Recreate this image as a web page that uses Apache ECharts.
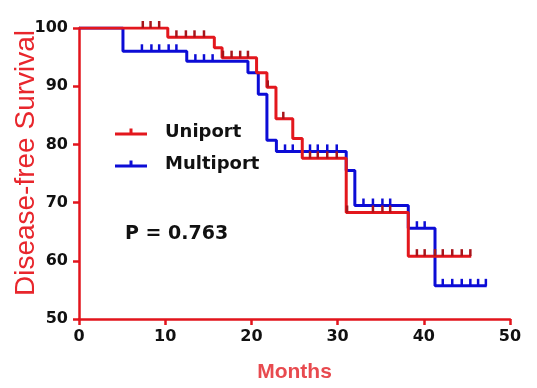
<!DOCTYPE html>
<html>
<head>
<meta charset="utf-8">
<script src="https://cdn.jsdelivr.net/npm/echarts@6/dist/echarts.min.js"></script>
<style>
  html, body { margin: 0; padding: 0; background: #fff; }
  #chart { width: 537px; height: 388px; }
</style>
</head>
<body>
<div id="chart"></div>
<script>
// Kaplan-Meier steps (months, % disease-free)
const uniTimes = [0, 10.3, 15.7, 16.6, 20.6, 21.8, 22.85, 24.8, 25.9, 31.0, 38.2, 45.5];
const uniSurv = [100, 98.4, 96.6, 94.9, 92.3, 89.8, 84.4, 81.0, 77.6, 68.3, 60.8, 60.8];
const uniCensor = [7.4, 8.3, 9.3, 11.3, 12.4, 13.4, 14.5, 16.7, 17.7, 18.7, 19.6, 21.9, 23.7,
  26.8, 27.7, 28.8, 29.9, 31.1, 34.1, 35.2, 36.1, 39.2, 40.1, 41.3, 42.2, 43.3, 44.4, 45.4];

const multiTimes = [0, 5.1, 12.5, 19.6, 20.8, 21.8, 22.9, 31.0, 32.0, 38.2, 41.3, 47.3];
const multiSurv = [100, 96.0, 94.3, 92.3, 88.6, 80.7, 78.8, 75.5, 69.5, 65.6, 55.7, 55.7];
const multiCensor = [7.3, 8.4, 9.3, 10.4, 11.3, 13.5, 14.5, 15.5, 23.9, 24.8, 26.8, 27.7, 28.8, 29.9,
  33.0, 34.1, 35.2, 36.1, 39.2, 40.1, 42.2, 43.3, 44.4, 45.4, 46.3, 47.2];

const RED = '#e3171d';
const BLUE = '#0c0cd6';
const AXIS_RED = '#e2141c';

function pairs(xs, ys) {
  return xs.map((x, i) => [x, ys[i]]);
}

// censor mark sits on the step level at that time
function levelAt(xs, ys, t) {
  let v = ys[0];
  for (let i = 0; i < xs.length; i++) {
    if (xs[i] <= t) v = ys[i];
  }
  return v;
}

function censorPoints(cs, xs, ys) {
  return cs.map((t) => [t, levelAt(xs, ys, t)]);
}

const legendIcon = 'path://M0,4 L32,4 L32,7 L0,7 Z M14.5,0 L17.5,0 L17.5,4 L14.5,4 Z';

const chart = echarts.init(document.getElementById('chart'));
chart.setOption({
  animation: false,
  grid: { left: 79, right: 27, top: 28, bottom: 65 },
  legend: {
    data: ['Uniport', 'Multiport'],
    orient: 'vertical',
    left: 115,
    top: 122,
    padding: 0,
    itemWidth: 32,
    itemHeight: 10,
    itemGap: 12,
    icon: legendIcon,
    textStyle: {
      fontFamily: 'DejaVu Sans',
      fontWeight: 'bold',
      fontSize: 18,
      lineHeight: 20,
      color: '#111',
      padding: [0, 0, 0, 13],
    },
  },
  xAxis: {
    type: 'value',
    min: 0,
    max: 50,
    interval: 10,
    name: 'Months',
    nameLocation: 'middle',
    nameGap: 43,
    nameTextStyle: { fontFamily: 'Liberation Sans', fontWeight: 'bold', fontSize: 21, color: '#e84a4f' },
    axisLine: { lineStyle: { color: AXIS_RED, width: 2.5 } },
    axisTick: { length: 6, lineStyle: { color: AXIS_RED, width: 2.5 } },
    axisLabel: { margin: 10, fontFamily: 'DejaVu Sans', fontWeight: 'bold', fontSize: 16, color: '#111' },
    splitLine: { show: false },
  },
  yAxis: {
    type: 'value',
    min: 50,
    max: 100,
    interval: 10,
    axisLine: { show: true, lineStyle: { color: AXIS_RED, width: 2.5 } },
    axisTick: { show: true, length: 6, lineStyle: { color: AXIS_RED, width: 2.5 } },
    axisLabel: { margin: 11, fontFamily: 'DejaVu Sans', fontWeight: 'bold', fontSize: 16, color: '#111' },
    splitLine: { show: false },
  },
  graphic: [
    {
      type: 'text',
      x: 26,
      y: 163,
      rotation: Math.PI / 2,
      style: {
        text: 'Disease-free Survival',
        font: '28px "Liberation Sans"',
        fill: '#e8262c',
        align: 'center',
        verticalAlign: 'middle',
      },
    },
    {
      type: 'text',
      x: 125,
      y: 234.5,
      style: {
        text: 'P = 0.763',
        font: 'bold 19px "DejaVu Sans"',
        fill: '#111',
        align: 'left',
        verticalAlign: 'middle',
      },
    },
  ],
  series: [
    {
      name: 'Multiport',
      type: 'line',
      step: 'end',
      data: pairs(multiTimes, multiSurv),
      showSymbol: false,
      lineStyle: { color: BLUE, width: 3 },
      itemStyle: { color: BLUE },
      z: 2,
    },
    {
      name: 'Multiport',
      type: 'scatter',
      data: censorPoints(multiCensor, multiTimes, multiSurv),
      symbol: 'rect',
      symbolSize: [2.5, 7],
      symbolOffset: [0, -3.5],
      itemStyle: { color: BLUE, opacity: 1 },
      z: 2,
    },
    {
      name: 'Uniport',
      type: 'line',
      step: 'end',
      data: pairs(uniTimes, uniSurv),
      showSymbol: false,
      lineStyle: { color: RED, width: 3 },
      itemStyle: { color: RED },
      z: 3,
    },
    {
      name: 'Uniport',
      type: 'scatter',
      data: censorPoints(uniCensor, uniTimes, uniSurv),
      symbol: 'rect',
      symbolSize: [2.5, 7],
      symbolOffset: [0, -3.5],
      itemStyle: { color: '#a8141a', opacity: 1 },
      z: 3,
    },
  ],
});
</script>
</body>
</html>
